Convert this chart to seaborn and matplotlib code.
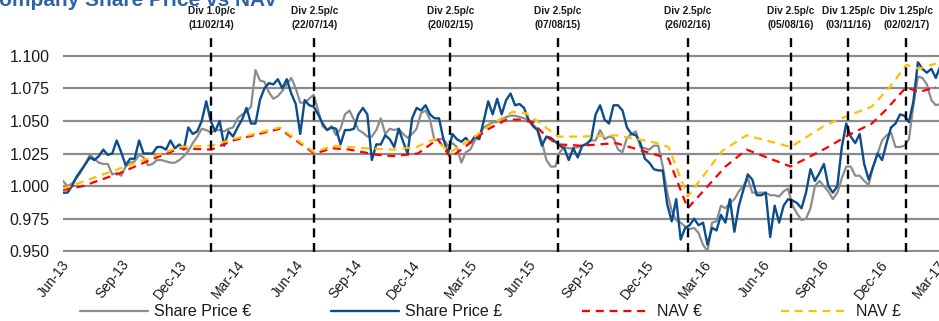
import matplotlib
matplotlib.use("Agg")
import matplotlib.pyplot as plt
import matplotlib.dates as mdates
import matplotlib.transforms as mtransforms
import pandas as pd
import seaborn as sns

# Weekly share prices (rebased), first observation date
price_start = "2013-06-24"

share_price_eur = [
    1.004, 1.000, 1.002, 1.006, 1.011, 1.017, 1.024, 1.021, 1.018, 1.017,
    1.017, 1.009, 1.010, 1.008, 1.015, 1.018, 1.019, 1.024, 1.022, 1.016,
    1.017, 1.020, 1.020, 1.019, 1.018, 1.018, 1.020, 1.023, 1.027, 1.033,
    1.038, 1.044, 1.043, 1.041, 1.043, 1.043, 1.042, 1.044, 1.045, 1.052,
    1.055, 1.057, 1.061, 1.089, 1.081, 1.080, 1.072, 1.067, 1.069, 1.073,
    1.078, 1.083, 1.075, 1.064, 1.064, 1.067, 1.070, 1.058, 1.046, 1.043,
    1.046, 1.039, 1.044, 1.055, 1.058, 1.051, 1.043, 1.041, 1.038, 1.038,
    1.043, 1.052, 1.040, 1.044, 1.043, 1.044, 1.040, 1.037, 1.040, 1.044,
    1.056, 1.058, 1.051, 1.035, 1.036, 1.036, 1.031, 1.033, 1.030, 1.018,
    1.026, 1.028, 1.035, 1.039, 1.045, 1.047, 1.049, 1.049, 1.051, 1.053,
    1.054, 1.054, 1.053, 1.052, 1.051, 1.047, 1.044, 1.034, 1.020, 1.015,
    1.015, 1.026, 1.030, 1.029, 1.029, 1.030, 1.031, 1.033, 1.035, 1.035,
    1.043, 1.036, 1.038, 1.037, 1.028, 1.026, 1.037, 1.040, 1.042, 1.030,
    1.029, 1.028, 1.031, 1.031, 1.015, 0.995, 0.981, 0.974, 0.972, 0.969,
    0.967, 0.968, 0.964, 0.955, 0.950, 0.972, 0.973, 0.985, 0.983, 0.987,
    0.990, 0.996, 1.000, 1.006, 0.995, 0.995, 0.995, 0.995, 0.993, 0.993,
    0.992, 0.996, 0.998, 0.985, 0.979, 0.974, 0.975, 0.983, 1.000, 1.004,
    1.000, 0.996, 0.990, 0.995, 1.006, 1.015, 1.015, 1.008, 1.008, 1.004,
    1.001, 1.015, 1.025, 1.035, 1.039, 1.041, 1.030, 1.030, 1.031, 1.036,
    1.062, 1.084, 1.083, 1.078, 1.066, 1.062, 1.063,
]

share_price_gbp = [
    0.995, 0.995, 1.000, 1.007, 1.012, 1.017, 1.022, 1.020, 1.023, 1.028,
    1.024, 1.025, 1.035, 1.026, 1.016, 1.021, 1.021, 1.035, 1.025, 1.025,
    1.025, 1.030, 1.030, 1.028, 1.035, 1.029, 1.032, 1.028, 1.045, 1.040,
    1.042, 1.050, 1.065, 1.050, 1.042, 1.050, 1.031, 1.042, 1.038, 1.045,
    1.051, 1.060, 1.048, 1.048, 1.066, 1.075, 1.079, 1.078, 1.082, 1.075,
    1.082, 1.071, 1.063, 1.040, 1.066, 1.062, 1.061, 1.055, 1.048, 1.043,
    1.045, 1.044, 1.032, 1.043, 1.043, 1.044, 1.055, 1.060, 1.055, 1.020,
    1.032, 1.032, 1.039, 1.036, 1.030, 1.044, 1.034, 1.025, 1.052, 1.060,
    1.058, 1.062, 1.055, 1.052, 1.052, 1.036, 1.025, 1.040, 1.036, 1.034,
    1.037, 1.033, 1.038, 1.036, 1.050, 1.065, 1.055, 1.067, 1.055, 1.066,
    1.071, 1.062, 1.063, 1.060, 1.051, 1.046, 1.043, 1.031, 1.038, 1.037,
    1.034, 1.031, 1.029, 1.020, 1.029, 1.022, 1.031, 1.032, 1.036, 1.055,
    1.062, 1.051, 1.048, 1.062, 1.062, 1.058, 1.045, 1.040, 1.039, 1.033,
    1.021, 1.018, 1.013, 1.012, 1.012, 0.986, 0.973, 0.990, 0.959, 0.968,
    0.970, 0.975, 0.970, 0.972, 0.955, 0.968, 0.966, 0.978, 0.972, 0.990,
    0.965, 0.985, 0.997, 1.009, 1.005, 0.993, 0.993, 0.995, 0.961, 0.985,
    0.972, 0.985, 0.990, 0.989, 0.987, 0.983, 0.995, 1.013, 1.004, 1.010,
    1.017, 1.000, 0.995, 1.000, 1.030, 1.048, 1.038, 1.033, 1.040, 1.017,
    1.005, 1.015, 1.025, 1.020, 1.033, 1.045, 1.048, 1.055, 1.054, 1.049,
    1.065, 1.095, 1.090, 1.087, 1.090, 1.083, 1.092,
]

nav_eur_dates = [
    "2013-06-24", "2013-07-25", "2013-09-21", "2013-11-07", "2013-12-24",
    "2014-02-11", "2014-03-17", "2014-05-29", "2014-07-22", "2014-08-20",
    "2014-09-15", "2014-10-28", "2014-11-22", "2014-12-31", "2015-01-31",
    "2015-02-20", "2015-03-17", "2015-04-17", "2015-05-19", "2015-06-08",
    "2015-06-28", "2015-07-20", "2015-08-07", "2015-09-13", "2015-11-06",
    "2016-01-01", "2016-01-27", "2016-02-26", "2016-04-25", "2016-05-28",
    "2016-08-05", "2016-09-29", "2016-11-03", "2016-12-10", "2016-12-31",
    "2017-02-02", "2017-02-21", "2017-03-20",
]
nav_eur = [
    0.997, 1.000, 1.010, 1.020, 1.029, 1.028, 1.035, 1.044, 1.025, 1.029,
    1.028, 1.024, 1.023, 1.025, 1.036, 1.022, 1.031, 1.043, 1.051, 1.051,
    1.049, 1.038, 1.032, 1.031, 1.033, 1.025, 1.021, 0.983, 1.015, 1.028,
    1.015, 1.029, 1.039, 1.048, 1.058, 1.076, 1.072, 1.076,
]

nav_gbp_dates = [
    "2013-06-24", "2013-12-24", "2014-02-11", "2014-03-17", "2014-05-29",
    "2014-07-22", "2014-08-20", "2014-10-12", "2014-11-22", "2014-12-29",
    "2015-01-25", "2015-02-20", "2015-03-27", "2015-04-27", "2015-05-28",
    "2015-06-18", "2015-07-08", "2015-08-07", "2015-09-13", "2015-11-06",
    "2016-01-01", "2016-01-27", "2016-02-26", "2016-04-20", "2016-05-28",
    "2016-08-05", "2016-09-29", "2016-11-03", "2016-12-10", "2017-01-07",
    "2017-02-02", "2017-02-21", "2017-03-20",
]
nav_gbp = [
    0.998, 1.030, 1.031, 1.036, 1.045, 1.026, 1.031, 1.029, 1.028, 1.030,
    1.036, 1.026, 1.037, 1.048, 1.057, 1.056, 1.049, 1.038, 1.038, 1.039,
    1.034, 1.030, 0.992, 1.027, 1.039, 1.030, 1.047, 1.054, 1.061, 1.076,
    1.093, 1.090, 1.094,
]

div_dates = [
    "2014-02-11", "2014-07-22", "2015-02-20", "2015-08-07",
    "2016-02-26", "2016-08-05", "2016-11-03", "2017-02-02",
]
div_amounts = ["1.0p/c", "2.5p/c", "2.5p/c", "2.5p/c",
               "2.5p/c", "2.5p/c", "1.25p/c", "1.25p/c"]

y_ticks = [0.950, 0.975, 1.000, 1.025, 1.050, 1.075, 1.100]
axis_end = "2017-03-25"
title = "Company Share Price vs NAV"

series_labels = ["Share Price €", "Share Price £", "NAV €", "NAV £"]
series_colors = ["#8C8C8C", "#0B4C8E", "#FF0000", "#FFC000"]

sns.set_style("white")
plt.rcParams["font.family"] = ["Liberation Sans", "DejaVu Sans"]

W, H = 939, 321
fig = plt.figure(figsize=(W / 100, H / 100), dpi=100)
ax_left, ax_top, ax_bottom = 63, 35, 252.1
ax = fig.add_axes([ax_left / W, 1 - ax_bottom / H, 1 - ax_left / W, (ax_bottom - ax_top) / H])

df_eur = pd.DataFrame({
    "date": pd.date_range(price_start, periods=len(share_price_eur), freq="7D"),
    "value": share_price_eur,
})
df_gbp = pd.DataFrame({
    "date": pd.date_range(price_start, periods=len(share_price_gbp), freq="7D"),
    "value": share_price_gbp,
})
df_nav_eur = pd.DataFrame({"date": pd.to_datetime(nav_eur_dates), "value": nav_eur})
df_nav_gbp = pd.DataFrame({"date": pd.to_datetime(nav_gbp_dates), "value": nav_gbp})

dash = (0, (3.6, 2.6))
sns.lineplot(data=df_eur, x="date", y="value", ax=ax, color=series_colors[0],
             lw=1.6, label=series_labels[0], zorder=3)
sns.lineplot(data=df_gbp, x="date", y="value", ax=ax, color=series_colors[1],
             lw=1.7, label=series_labels[1], zorder=3)
sns.lineplot(data=df_nav_eur, x="date", y="value", ax=ax, color=series_colors[2],
             lw=1.6, linestyle=dash, label=series_labels[2], zorder=4)
sns.lineplot(data=df_nav_gbp, x="date", y="value", ax=ax, color=series_colors[3],
             lw=1.6, linestyle=dash, label=series_labels[3], zorder=4)

handles, labels = ax.get_legend_handles_labels()
if ax.get_legend() is not None:
    ax.get_legend().remove()

# Dividend markers with their labels above the plot
label_trans = mtransforms.blended_transform_factory(ax.transData, fig.transFigure)
for d, amt in zip(div_dates, div_amounts):
    ts = pd.Timestamp(d)
    x = mdates.date2num(ts)
    ax.axvline(x, color="black", lw=1.7, linestyle=(0, (3.8, 2.4)), zorder=5)
    ax.text(x, 1 - 18 / H, f"Div {amt}\n({ts:%d/%m/%y})", transform=label_trans,
            ha="center", va="center", fontsize=7.3, fontweight="bold",
            linespacing=1.5, color="#1a1a1a", clip_on=False)

# Axes ranges and ticks
ax.set_xlim(mdates.date2num(pd.Timestamp(price_start)), mdates.date2num(pd.Timestamp(axis_end)))
ax.set_ylim(0.9494, 1.1159)
tick_dates = [pd.Timestamp(price_start) + pd.DateOffset(months=3 * i) for i in range(16)]
ax.set_xticks([mdates.date2num(t) for t in tick_dates])
ax.set_xticklabels([t.strftime("%b-%y") for t in tick_dates])
ax.set_yticks(y_ticks)
ax.set_yticklabels([f"{v:.3f}" for v in y_ticks])
ax.tick_params(axis="x", length=0, pad=7, labelsize=10, labelcolor="#1a1a1a")
ax.tick_params(axis="y", length=0, pad=9.5, labelsize=11.5, labelcolor="#1a1a1a")
offset = mtransforms.ScaledTranslation(4 / 100, 0, fig.dpi_scale_trans)
for lab in ax.get_xticklabels():
    lab.set_rotation(52)
    lab.set_ha("right")
    lab.set_va("center")
    lab.set_rotation_mode("anchor")
    lab.set_transform(lab.get_transform() + offset)

ax.set_xlabel("")
ax.set_ylabel("")
ax.grid(False)
ax.yaxis.grid(True, color="#8C8C8C", lw=1.6)
ax.set_axisbelow(True)
for s in ax.spines.values():
    s.set_visible(False)

fig.legend(handles, labels, loc="center", bbox_to_anchor=(0.522, 1 - 312 / H),
           ncol=4, frameon=False, fontsize=11.5, handlelength=4.25,
           handletextpad=0.4, columnspacing=5.0, labelcolor="#1a1a1a")

# Page heading, running off the top edge
fig.text(-0.017, 1 - 5.5 / H, title, fontsize=15, fontweight="bold",
         color="#2E63A4", va="baseline", ha="left", zorder=-1)

fig.savefig("out.png", dpi=100)
